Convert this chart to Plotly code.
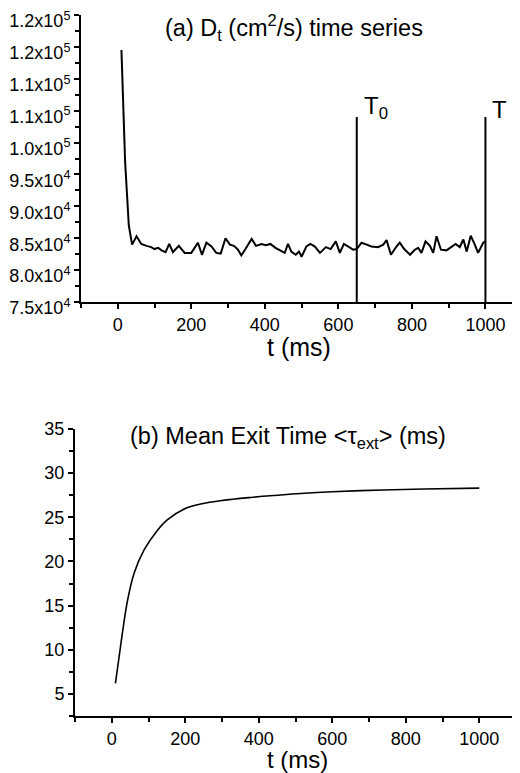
import plotly.graph_objects as go

# (a) diffusion coefficient time series
t_a = [10, 20, 30, 39, 51, 64, 78, 91, 100, 110, 119, 130, 140, 150, 166, 182, 200,
       218, 229, 241, 255, 268, 280, 293, 305, 316, 327, 336, 346, 364, 376, 391,
       403, 415, 429, 442, 454, 463, 472, 484, 493, 500, 513, 524, 536, 550, 566,
       579, 593, 604, 615, 627, 640, 650, 663, 677, 690, 708, 722, 731, 743, 758,
       767, 779, 795, 808, 817, 826, 837, 849, 858, 867, 879, 894, 908, 919, 930,
       940, 949, 960, 971, 980, 994, 1000]
d_t = [114500, 97000, 87000, 84000, 85300, 84100, 83800, 83600, 83300, 83500, 83100,
       82800, 84100, 82800, 83800, 82700, 82700, 84300, 82400, 84300, 83700, 82700,
       82600, 85000, 84000, 83800, 83200, 82300, 83200, 84900, 83800, 84100, 83900,
       84100, 83500, 83100, 82700, 84100, 82900, 82400, 82900, 82100, 83700, 84100,
       83700, 82700, 83600, 83300, 84500, 82700, 84100, 83700, 83200, 83300, 84300,
       84000, 83700, 83600, 84000, 84700, 82400, 83700, 84300, 83300, 82400, 83200,
       83500, 82700, 84500, 83800, 82700, 85300, 83200, 83100, 83700, 84100, 83600,
       84800, 82900, 85400, 84000, 82700, 84300, 84500]

# marker lines T0 and T
marker_t = [650, 1000]
marker_names = ["T<sub>0</sub>", "T"]
marker_top = 104000

# (b) mean exit time
t_b = [10, 20, 30, 43, 61, 88, 124, 151, 200, 242, 300, 378, 450, 514, 600, 740, 850, 1000]
tau = [6.2, 9.2, 12.2, 15.6, 18.7, 21.3, 23.5, 24.7, 26.0, 26.5, 26.9, 27.25, 27.5,
       27.7, 27.9, 28.1, 28.2, 28.3]

ya_vals = [75000, 80000, 85000, 90000, 95000, 100000, 105000, 110000, 115000, 120000]
ya_text = ["7.5x10<sup>4</sup>", "8.0x10<sup>4</sup>", "8.5x10<sup>4</sup>",
           "9.0x10<sup>4</sup>", "9.5x10<sup>4</sup>", "1.0x10<sup>5</sup>",
           "1.1x10<sup>5</sup>", "1.1x10<sup>5</sup>", "1.2x10<sup>5</sup>",
           "1.2x10<sup>5</sup>"]
x_vals = [0, 200, 400, 600, 800, 1000]
yb_vals = [5, 10, 15, 20, 25, 30, 35]

# page body adds an 8px margin, so the figure is a bit smaller and shifted
OFF = 8
W, H = 520 - OFF, 773 - OFF
FONT = "Liberation Sans, Arial, sans-serif"


def px_x(p):
    return (p - OFF) / W


def px_y(p):
    return (H - (p - OFF)) / H


fig = go.Figure()
fig.add_trace(go.Scatter(x=t_a, y=d_t, mode="lines", line=dict(color="black", width=2),
                         xaxis="x", yaxis="y", showlegend=False))
for t in marker_t:
    fig.add_trace(go.Scatter(x=[t, t], y=[ya_vals[0], marker_top], mode="lines",
                             line=dict(color="black", width=2),
                             xaxis="x", yaxis="y", showlegend=False))
fig.add_trace(go.Scatter(x=t_b, y=tau, mode="lines", line=dict(color="black", width=1.6, shape="spline"),
                         xaxis="x2", yaxis="y2", showlegend=False))

minor_tick = dict(ticks="outside", ticklen=4, tickcolor="black", tickwidth=1.5)
axis_common = dict(showline=True, linecolor="black", linewidth=2, showgrid=False,
                   zeroline=False, ticks="outside", ticklen=5, tickwidth=1.5,
                   tickcolor="black", automargin=False, ticklabeloverflow="allow",
                   tickfont=dict(size=18, color="black", family=FONT))

fig.update_layout(
    width=W, height=H,
    margin=dict(l=0, r=0, t=0, b=0),
    paper_bgcolor="white", plot_bgcolor="white",
    font=dict(family=FONT, color="black"),
    xaxis=dict(domain=[px_x(81), 1], range=[-100, 1094], anchor="y",
               tickmode="array", tickvals=x_vals,
               minor=dict(dtick=100, tick0=0, **minor_tick), **axis_common),
    yaxis=dict(domain=[px_y(302), px_y(15)], range=[75000, 120000], anchor="x",
               tickmode="array", tickvals=ya_vals, ticktext=ya_text, ticklabelshift=6,
               minor=dict(dtick=2500, tick0=75000, **minor_tick), **axis_common),
    xaxis2=dict(domain=[px_x(75), px_x(516)], range=[-100, 1100], anchor="y2",
                tickmode="array", tickvals=x_vals,
                minor=dict(dtick=100, tick0=0, **minor_tick), **axis_common),
    yaxis2=dict(domain=[px_y(716), px_y(429)], range=[2.5, 35], anchor="x2",
                tickmode="array", tickvals=yb_vals,
                minor=dict(dtick=2.5, tick0=2.5, **minor_tick), **axis_common),
)

ann = [
    dict(text="(a) D<sub>t</sub> (cm<sup>2</sup>/s) time series", x=px_x(294), y=px_y(27),
         font=dict(size=23.5)),
    dict(text="t (ms)", x=px_x(299), y=px_y(347), font=dict(size=25)),
    dict(text="(b) Mean Exit Time &lt;τ<sub>ext</sub>&gt; (ms)", x=px_x(288), y=px_y(437),
         font=dict(size=23.5)),
    dict(text="t (ms)", x=px_x(297), y=px_y(759), font=dict(size=24)),
]
for a in ann:
    fig.add_annotation(xref="paper", yref="paper", showarrow=False, xanchor="center",
                       yanchor="middle", **a)

for t, name in zip(marker_t, marker_names):
    fig.add_annotation(x=t, y=marker_top, xref="x", yref="y", text=name, showarrow=False,
                       xanchor="left", yanchor="bottom", xshift=5, yshift=-8,
                       font=dict(size=24, color="black"))

fig.write_html("out.html")
